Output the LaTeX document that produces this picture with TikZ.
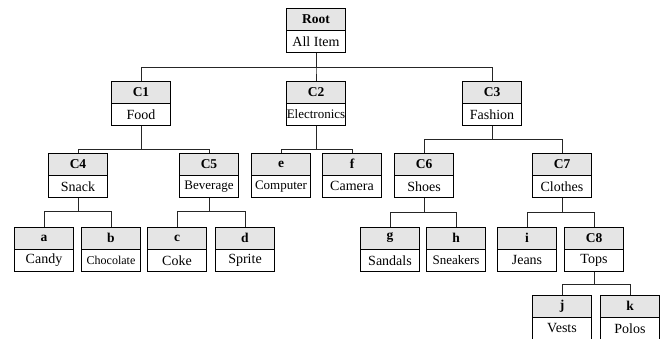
\documentclass[tikz,border=0pt]{standalone}
\usepackage{fontspec}
\setmainfont{Liberation Serif}
\usepackage{tikz}
\usetikzlibrary{positioning}

\begin{document}
\begin{tikzpicture}[x=1pt,y=-1pt,
  hdr/.style={draw,minimum width=59pt,minimum height=22pt,inner sep=0pt,
              fill=gray!20,font=\fontsize{13.5}{15}\selectfont\bfseries,text centered},
  itm/.style={draw,minimum width=59pt,minimum height=22pt,inner sep=0pt,
              fill=white,font=\fontsize{14}{16}\selectfont,text centered,
              anchor=north},
  small/.style={font=\fontsize{13}{15}\selectfont},
  link/.style={line width=0.8pt,black!85}]
\useasboundingbox (0,0) rectangle (667,338);
% root
\node[hdr] (root) at (316,19) {Root};
\node[itm] (allitem) at (root.south) {All Item};
% level 1
\node[hdr] (c1) at (141,92) {C1};
\node[itm] (food) at (c1.south) {Food};
\node[hdr] (c2) at (316,92) {C2};
\node[itm,small] (electronics) at (c2.south) {Electronics};
\node[hdr] (c3) at (492,92) {C3};
\node[itm] (fashion) at (c3.south) {Fashion};
% level 2
\node[hdr] (c4) at (78,164) {C4};
\node[itm] (snack) at (c4.south) {Snack};
\node[hdr] (c5) at (209,164) {C5};
\node[itm,small] (beverage) at (c5.south) {Beverage};
\node[hdr] (e) at (281,164) {e};
\node[itm,small] (computer) at (e.south) {Computer};
\node[hdr] (f) at (352,164) {f};
\node[itm] (camera) at (f.south) {Camera};
\node[hdr] (c6) at (424,164) {C6};
\node[itm] (shoes) at (c6.south) {Shoes};
\node[hdr] (c7) at (562,164) {C7};
\node[itm] (clothes) at (c7.south) {Clothes};
% level 3
\node[hdr] (a) at (44,238) {a};
\node[itm] (candy) at (a.south) {Candy};
\node[hdr] (b) at (111,238) {b};
\node[itm,font=\fontsize{12}{14}\selectfont] (chocolate) at (b.south) {Chocolate};
\node[hdr] (c) at (177,238) {c};
\node[itm] (coke) at (c.south) {Coke};
\node[hdr] (d) at (245,238) {d};
\node[itm] (sprite) at (d.south) {Sprite};
\node[hdr] (g) at (390,238) {g};
\node[itm] (sandals) at (g.south) {Sandals};
\node[hdr] (h) at (456,238) {h};
\node[itm,small] (sneakers) at (h.south) {Sneakers};
\node[hdr] (i) at (527,238) {i};
\node[itm] (jeans) at (i.south) {Jeans};
\node[hdr] (c8) at (594,238) {C8};
\node[itm] (tops) at (c8.south) {Tops};
% level 4
\node[hdr] (j) at (562,306) {j};
\node[itm] (vests) at (j.south) {Vests};
\node[hdr] (k) at (630,306) {k};
\node[itm] (polos) at (k.south) {Polos};
% connectors
\draw[link] (allitem.south) -- ++(0,15) -| (c1.north);
\draw[link] (allitem.south) -- ++(0,15) -| (c2.north);
\draw[link] (allitem.south) -- ++(0,15) -| (c3.north);
\draw[link] (food.south) -- ++(0,24) -| (c4.north);
\draw[link] (food.south) -- ++(0,24) -| (c5.north);
\draw[link] (electronics.south) -- ++(0,24) -| (e.north);
\draw[link] (electronics.south) -- ++(0,24) -| (f.north);
\draw[link] (fashion.south) -- ++(0,14) -| (c6.north);
\draw[link] (fashion.south) -- ++(0,14) -| (c7.north);
\draw[link] (snack.south) -- ++(0,14) -| (a.north);
\draw[link] (snack.south) -- ++(0,14) -| (b.north);
\draw[link] (beverage.south) -- ++(0,14) -| (c.north);
\draw[link] (beverage.south) -- ++(0,14) -| (d.north);
\draw[link] (shoes.south) -- ++(0,15) -| (g.north);
\draw[link] (shoes.south) -- ++(0,15) -| (h.north);
\draw[link] (clothes.south) -- ++(0,15) -| (i.north);
\draw[link] (clothes.south) -- ++(0,15) -| (c8.north);
\draw[link] (tops.south) -- ++(0,13) -| (j.north);
\draw[link] (tops.south) -- ++(0,13) -| (k.north);
\end{tikzpicture}
\end{document}
